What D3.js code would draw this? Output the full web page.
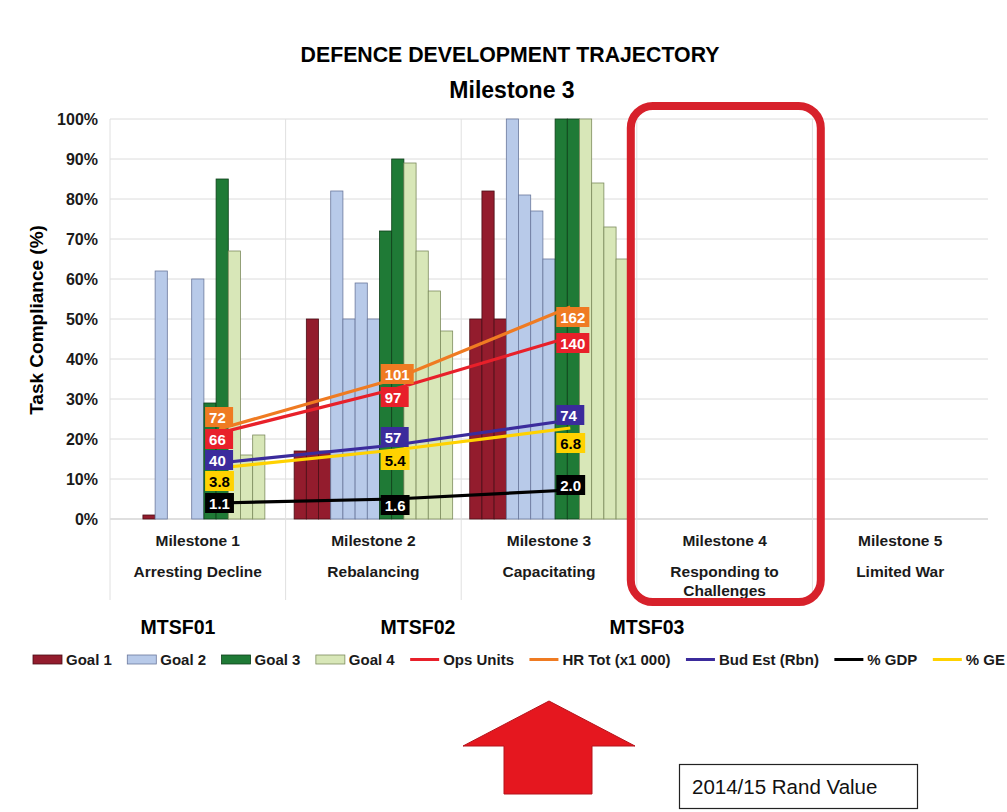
<!DOCTYPE html>
<html>
<head>
<meta charset="utf-8">
<script src="https://cdn.jsdelivr.net/npm/d3@7"></script>
<style>
  body { margin: 0; background: #fff; }
  text { font-family: "Liberation Sans", Arial, sans-serif; }
</style>
</head>
<body>
<div id="chart"></div>
<script>
// categories on the x axis
var milestones = ['Milestone 1', 'Milestone 2', 'Milestone 3', 'Milestone 4', 'Milestone 5']
var phases = [['Arresting Decline'], ['Rebalancing'], ['Capacitating'], ['Responding to', 'Challenges'], ['Limited War']]
var mtsf = ['MTSF01', 'MTSF02', 'MTSF03']

// task compliance (%) per goal, one small array of sub-bars per milestone
var goal1 = [[0, 0, 1], [17, 50, 17], [50, 82, 50], [], []]
var goal2 = [[62, 0, 0, 60], [82, 50, 59, 50], [100, 81, 77, 65], [], []]
var goal3 = [[29, 85], [72, 90], [100, 100], [], []]
var goal4 = [[67, 16, 21, 0], [89, 67, 57, 47], [100, 84, 73, 65], [], []]

// line series: label values and the level (%) where each is drawn on the chart
var opsUnits = ['66', '97', '140']
var opsLevel = [21.5, 32.5, 45.5]
var hrTot = ['72', '101', '162']
var hrLevel = [22.5, 35, 53]
var budEst = ['40', '57', '74']
var budLevel = [14, 18.5, 24.75]
var gdp = ['1.1', '1.6', '2.0']
var gdpLevel = [4, 5, 7.25]
var ge = ['3.8', '5.4', '6.8']
var geLevel = [12.75, 17.25, 22.75]

var yTicks = [0, 10, 20, 30, 40, 50, 60, 70, 80, 90, 100]

// --- layout and styles ---
var width = 1007, height = 812
var goalColors = {
  'Goal 1': { fill: '#931c2d', stroke: '#4a0e16' },
  'Goal 2': { fill: '#b8cae9', stroke: '#6a789c' },
  'Goal 3': { fill: '#1f7a36', stroke: '#0d3f19' },
  'Goal 4': { fill: '#d8e7b8', stroke: '#7d8c5e' }
}
var lineSeries = [
  { name: 'Ops Units', color: '#e8202a', text: '#fff', labels: opsUnits, levels: opsLevel, nudge: [6, 8, 6] },
  { name: 'HR Tot (x1 000)', color: '#ef7b22', text: '#fff', labels: hrTot, levels: hrLevel, nudge: [-12, -5, 10] },
  { name: 'Bud Est (Rbn)', color: '#3b2b9c', text: '#fff', labels: budEst, levels: budLevel, nudge: [-3, -8, -5] },
  { name: '% GDP', color: '#000000', text: '#fff', labels: gdp, levels: gdpLevel, nudge: [0, 6, -5] },
  { name: '% GE', color: '#ffd200', text: '#000', labels: ge, levels: geLevel, nudge: [13, 10, 15] }
]

var svg = d3.select('#chart').append('svg')
  .attr('width', width)
  .attr('height', height)

var x = d3.scaleBand().domain(milestones).range([110, 988]).padding(0)
var slots = d3.range(13)
var xi = d3.scaleBand().domain(slots).range([0, x.bandwidth()]).paddingInner(0).paddingOuter(0.7)
var y = d3.scaleLinear().domain([0, 100]).range([519, 119])

// titles
svg.append('text').attr('x', 510).attr('y', 62).attr('text-anchor', 'middle')
  .style('font-size', '21.3px').style('font-weight', 'bold').text('DEFENCE DEVELOPMENT TRAJECTORY')
svg.append('text').attr('x', 512).attr('y', 98).attr('text-anchor', 'middle')
  .style('font-size', '23px').style('font-weight', 'bold').text('Milestone 3')

// horizontal gridlines
svg.append('g').selectAll('line').data(yTicks).enter().append('line')
  .attr('x1', 110).attr('x2', 988)
  .attr('y1', d => y(d)).attr('y2', d => y(d))
  .attr('stroke', d => d === 0 ? '#bfbfbf' : '#dcdcdc').attr('stroke-width', 1)

// vertical separators between milestones
svg.append('g').selectAll('line').data(milestones.slice(1)).enter().append('line')
  .attr('x1', d => x(d)).attr('x2', d => x(d))
  .attr('y1', 119).attr('y2', 600)
  .attr('stroke', '#e0e0e0').attr('stroke-width', 1)
svg.append('line').attr('x1', 110).attr('x2', 110).attr('y1', 119).attr('y2', 600)
  .attr('stroke', '#e0e0e0')

// y axis
var yAxis = d3.axisLeft(y).tickValues(yTicks).tickFormat(d => d + '%').tickSize(0).tickPadding(12)
var yg = svg.append('g').attr('transform', 'translate(110,0)').call(yAxis)
yg.select('.domain').remove()
yg.selectAll('text').style('font-size', '16px').style('font-weight', 'bold').style('fill', '#1a1a1a')
  .style('font-family', '"Liberation Sans", Arial, sans-serif')

svg.append('text')
  .attr('transform', 'translate(43,320) rotate(-90)')
  .attr('text-anchor', 'middle')
  .style('font-size', '19px').style('font-weight', 'bold').text('Task Compliance (%)')

// bars: flatten the goal arrays into slot records
var bars = []
milestones.forEach(function (m, i) {
  var slot = 0
  ;[['Goal 1', goal1], ['Goal 2', goal2], ['Goal 3', goal3], ['Goal 4', goal4]].forEach(function (g, gi) {
    var n = [3, 4, 2, 4][gi]
    for (var k = 0; k < n; k++) {
      var v = g[1][i][k]
      if (v !== undefined && v > 0) bars.push({ milestone: m, slot: slot, goal: g[0], value: v })
      slot++
    }
  })
})

svg.append('g').selectAll('rect').data(bars).enter().append('rect')
  .attr('x', d => x(d.milestone) + xi(d.slot))
  .attr('width', xi.bandwidth())
  .attr('y', d => y(d.value))
  .attr('height', d => y(0) - y(d.value))
  .attr('fill', d => goalColors[d.goal].fill)
  .attr('stroke', d => goalColors[d.goal].stroke)
  .attr('stroke-width', 0.8)

// lines sit over the Goal 3 pair of each milestone
var lineX = function (i) { return x(milestones[i]) + xi(8) + 3 }
var lineGen = d3.line().x((d, i) => lineX(i)).y(d => y(d))

var lg = svg.append('g')
lineSeries.slice().reverse().forEach(function (s) {
  lg.append('path').datum(s.levels)
    .attr('d', lineGen)
    .attr('fill', 'none')
    .attr('stroke', s.color)
    .attr('stroke-width', 3.2)
})

// data labels
var labG = svg.append('g')
lineSeries.forEach(function (s) {
  s.labels.forEach(function (lab, i) {
    var cx = lineX(i)
    var cy = y(s.levels[i]) + s.nudge[i]
    var g = labG.append('g')
    var r = g.append('rect').attr('fill', s.color)
    var t = g.append('text')
      .attr('x', cx - 14 + 4).attr('y', cy + 5.5)
      .style('font-size', '15px').style('font-weight', 'bold').style('fill', s.text)
      .text(lab)
    var w = Math.max(t.node().getComputedTextLength() + 8, 28)
    r.attr('x', cx - 14).attr('y', cy - 10).attr('width', w).attr('height', 20)
  })
})

// category axis labels
var cat = svg.append('g')
milestones.forEach(function (m, i) {
  var cx = x(m) + x.bandwidth() / 2
  cat.append('text').attr('x', cx).attr('y', 546).attr('text-anchor', 'middle')
    .style('font-size', '15.5px').style('font-weight', 'bold').style('fill', '#1a1a1a').text(m)
  phases[i].forEach(function (p, j) {
    cat.append('text').attr('x', cx).attr('y', 577 + j * 19).attr('text-anchor', 'middle')
      .style('font-size', '15.5px').style('font-weight', 'bold').style('fill', '#1a1a1a').text(p)
  })
})

// MTSF period labels
var mtsfX = [178, 418, 647]
svg.append('g').selectAll('text').data(mtsf).enter().append('text')
  .attr('x', (d, i) => mtsfX[i]).attr('y', 634).attr('text-anchor', 'middle')
  .style('font-size', '19.5px').style('font-weight', 'bold').text(d => d)

// highlight frame around Milestone 4
svg.append('rect')
  .attr('x', x('Milestone 4') - 6).attr('y', 106)
  .attr('width', 190).attr('height', 496)
  .attr('rx', 22).attr('ry', 22)
  .attr('fill', 'none').attr('stroke', '#d7212b').attr('stroke-width', 8)

// legend: flow layout from the left edge to the right edge of the page
var legendItems = ['Goal 1', 'Goal 2', 'Goal 3', 'Goal 4'].map(n => ({ name: n, type: 'bar' }))
  .concat(lineSeries.map(s => ({ name: s.name, type: 'line', color: s.color })))
var leg = svg.append('g')
var legStart = 33, legEnd = 1005, swW = 29, swGap = 4
legendItems.forEach(function (it) {
  it.node = leg.append('text').attr('y', 665)
    .style('font-size', '15px').style('font-weight', 'bold').style('fill', '#1a1a1a').text(it.name)
  it.w = it.node.node().getComputedTextLength()
})
var used = d3.sum(legendItems, d => d.w + swW + swGap)
var itemGap = (legEnd - legStart - used) / (legendItems.length - 1)
var cursor = legStart
legendItems.forEach(function (it) {
  if (it.type === 'bar') {
    leg.append('rect').attr('x', cursor).attr('y', 655).attr('width', swW).attr('height', 9)
      .attr('fill', goalColors[it.name].fill).attr('stroke', goalColors[it.name].stroke).attr('stroke-width', 0.8)
  } else {
    leg.append('line').attr('x1', cursor).attr('x2', cursor + swW).attr('y1', 659.5).attr('y2', 659.5)
      .attr('stroke', it.color).attr('stroke-width', 3)
  }
  it.node.attr('x', cursor + swW + swGap)
  cursor += swW + swGap + it.w + itemGap
})

// red up arrow
svg.append('path')
  .attr('d', 'M549,701 L635,746 L592,746 L592,794 L504,794 L504,746 L463,746 Z')
  .attr('fill', '#e5171f').attr('stroke', '#b5121a').attr('stroke-width', 1)

// value note box
svg.append('rect').attr('x', 679.5).attr('y', 764.5).attr('width', 238).attr('height', 44)
  .attr('fill', '#fff').attr('stroke', '#222').attr('stroke-width', 1.2)
svg.append('text').attr('x', 692).attr('y', 794)
  .style('font-size', '20.5px').style('fill', '#111').text('2014/15 Rand Value')
</script>
</body>
</html>
